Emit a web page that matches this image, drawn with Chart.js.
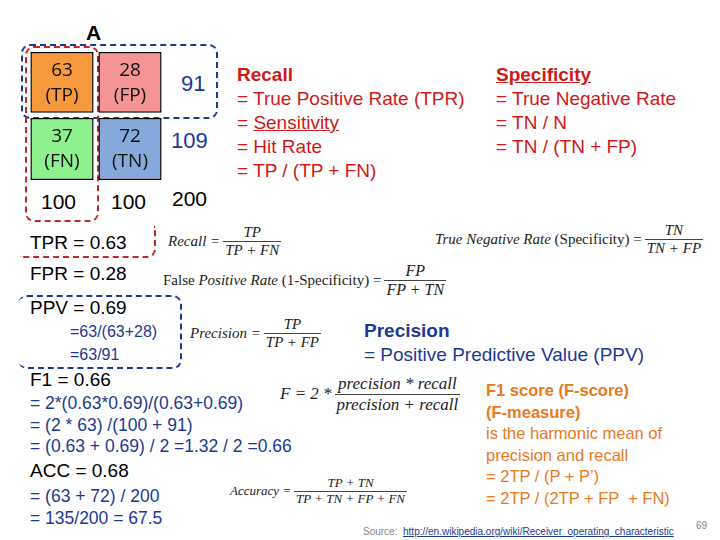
<!DOCTYPE html>
<html><head><meta charset="utf-8">
<script src="https://cdn.jsdelivr.net/npm/chart.js@4.4.1/dist/chart.umd.min.js"></script>
<style>
body{margin:0;width:720px;height:540px;background:#fff;position:relative;overflow:hidden;font-family:"Liberation Sans",Arial,sans-serif}
.t{position:absolute;white-space:nowrap;line-height:1}
.box{position:absolute;border:2.5px dashed;border-radius:9px}
.red{color:#d01818}.blue{color:#1b3a94}.or{color:#e8791e}
.f{position:absolute;white-space:nowrap;font-family:"Liberation Serif","Times New Roman",serif;font-style:italic;font-size:15px;display:flex;align-items:center;color:#222}
.fr{display:inline-flex;flex-direction:column;align-items:center;margin-left:3px}
.fr span{padding:0 2px;line-height:1.15}
.fr span+span{border-top:1px solid #444}
.up{font-style:normal}
</style></head><body>
<div class="t" style="left:86px;top:22px;font-size:21px;font-weight:bold">A</div>
<div class="box" style="left:21px;top:44px;width:193px;height:71px;border-color:#1b3a94"></div>
<div class="box" style="left:25px;top:46px;width:70px;height:172px;border-color:#c0282d"></div>
<div style="position:absolute;left:26px;top:48px;width:140px;height:134px"><canvas id="m"></canvas></div>
<div class="t blue" style="left:181px;top:73px;font-size:22px">91</div>
<div class="t blue" style="left:171px;top:130px;font-size:22px">109</div>
<div class="t" style="left:41px;top:191px;font-size:21px">100</div>
<div class="t" style="left:111px;top:191px;font-size:21px">100</div>
<div class="t" style="left:172px;top:188px;font-size:21px">200</div>

<div class="t red" style="left:237px;top:63px;font-size:19px;line-height:24px">
<b>Recall</b><br>= True Positive Rate (TPR)<br>= <u>Sensitivity</u><br>= Hit Rate<br>= TP / (TP + FN)</div>
<div class="t red" style="left:496px;top:63px;font-size:19px;line-height:24px">
<b><u>Specificity</u></b><br>= True Negative Rate<br>= TN / N<br>= TN / (TN + FP)</div>

<div class="box" style="left:20px;top:226px;width:134px;height:30px;border-color:#c0282d;border-top:none;border-left:none;border-radius:0 0 9px 0"></div>
<div class="t" style="left:30px;top:233px;font-size:19px">TPR = 0.63</div>
<div class="t" style="left:30px;top:264px;font-size:19px">FPR = 0.28</div>
<div class="box" style="left:18px;top:295px;width:162px;height:70px;border-color:#1b3a94;border-left:none"></div>
<div class="t" style="left:30px;top:298px;font-size:19px">PPV = 0.69</div>
<div class="t blue" style="left:70px;top:320px;font-size:16px;line-height:23px">=63/(63+28)<br>=63/91</div>
<div class="t" style="left:30px;top:370px;font-size:19px">F1 = 0.66</div>
<div class="t blue" style="left:30px;top:393px;font-size:17.5px;line-height:21.5px">= 2*(0.63*0.69)/(0.63+0.69)<br>= (2 * 63) /(100 + 91)<br>= (0.63 + 0.69) / 2 =1.32 / 2 =0.66</div>
<div class="t" style="left:30px;top:461px;font-size:19px">ACC = 0.68</div>
<div class="t blue" style="left:30px;top:485px;font-size:17.5px;line-height:22px">= (63 + 72) / 200<br>= 135/200 = 67.5</div>

<div class="f" style="left:168px;top:224px">Recall =<span class="fr"><span>TP</span><span>TP + FN</span></span></div>
<div class="f" style="left:435px;top:222px">True Negative Rate <span class="up">&nbsp;(Specificity) =</span><span class="fr"><span>TN</span><span>TN + FP</span></span></div>
<div class="f" style="left:163px;top:262px"><span class="up">False</span>&nbsp;Positive Rate<span class="up">&nbsp;(1-Specificity) =</span><span class="fr" style="font-size:16px"><span>FP</span><span>FP + TN</span></span></div>
<div class="f" style="left:190px;top:316px">Precision =<span class="fr"><span>TP</span><span>TP + FP</span></span></div>
<div class="f" style="left:280px;top:374px;font-size:17px">F = 2 *<span class="fr"><span>precision * recall</span><span>precision + recall</span></span></div>
<div class="f" style="left:230px;top:476px;font-size:13px">Accuracy =<span class="fr"><span>TP + TN</span><span>TP + TN + FP + FN</span></span></div>

<div class="t blue" style="left:364px;top:319px;font-size:19px;line-height:24px"><b>Precision</b><br>= Positive Predictive Value (PPV)</div>
<div class="t or" style="left:486px;top:380px;font-size:16.5px;line-height:21.5px"><b>F1 score (F-score)<br>(F-measure)</b><br>is the harmonic mean of<br>precision and recall<br>= 2TP / (P + P’)<br>= 2TP / (2TP + FP &nbsp;+ FN)</div>
<div class="t" style="left:363px;top:527px;font-size:10px;color:#888">Source: &nbsp;<u style="color:#1b3a94">http://en.wikipedia.org/wiki/Receiver_operating_characteristic</u></div>
<div class="t" style="left:696px;top:521px;font-size:10px;color:#888">69</div>
<script>
const cols = ['P', 'N'];
const topRow = [63, 28];
const bottomRow = [37, 72];
const topNames = ['TP', 'FP'];
const bottomNames = ['FN', 'TN'];

const cellLabels = {
    id: 'cellLabels',
    afterDatasetsDraw(chart) {
        const ctx = chart.ctx;
        ctx.save();
        ctx.font = '19px "Open Sans", sans-serif';
        ctx.fillStyle = '#111';
        ctx.textAlign = 'center';
        ctx.textBaseline = 'middle';
        chart.data.datasets.forEach((ds, di) => {
            chart.getDatasetMeta(di).data.forEach((bar, i) => {
                const y = (bar.y + bar.base) / 2;
                ctx.fillText(ds.counts[i], bar.x, y - 12);
                ctx.fillText('(' + ds.names[i] + ')', bar.x, y + 13);
            });
        });
        ctx.restore();
    }
};

new Chart(document.getElementById('m'), {
    type: 'bar',
    data: {
        labels: cols,
        datasets: [
            { counts: topRow, names: topNames, data: topRow.map(() => [0, 0.95]),
              backgroundColor: ['#f7993d', '#f49495'], borderColor: '#000', borderWidth: 1.5, borderSkipped: false },
            { counts: bottomRow, names: bottomNames, data: bottomRow.map(() => [1.03, 2]),
              backgroundColor: ['#8ef08e', '#86a9dc'], borderColor: '#000', borderWidth: 1.5, borderSkipped: false }
        ]
    },
    options: {
        responsive: true, maintainAspectRatio: false, animation: false,
        layout: { padding: { left: 2, right: 2, top: 4, bottom: 2 } },
        plugins: { legend: { display: false }, tooltip: { enabled: false } },
        scales: {
            x: { display: false, stacked: true },
            y: { display: false, reverse: true, min: 0, max: 2 }
        },
        datasets: { bar: { categoryPercentage: 1, barPercentage: 0.93, grouped: false } }
    },
    plugins: [cellLabels]
});
</script>
</body></html>
